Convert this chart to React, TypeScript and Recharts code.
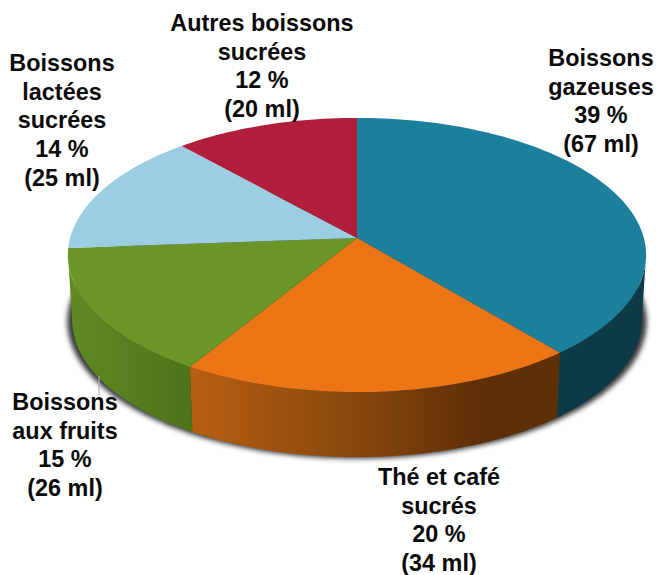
import { PieChart, Pie } from 'recharts';

const categories = ['Boissons gazeuses', 'Thé et café sucrés', 'Boissons aux fruits', 'Boissons lactées sucrées', 'Autres boissons sucrées'];
const volumes = [67, 34, 26, 25, 20];
const percents = [39, 20, 15, 14, 12];
const labelLines = [
  ['Boissons', 'gazeuses'],
  ['Thé et café', 'sucrés'],
  ['Boissons', 'aux fruits'],
  ['Boissons', 'lactées', 'sucrées'],
  ['Autres boissons', 'sucrées'],
];

const topColors = ['#1c7f9c', '#ec7615', '#6a9527', '#9bcde3', '#b01e3c'];
const sideFills = ['#0d3a46', 'url(#sideOrange)', 'url(#sideGreen)', 'none', 'none'];
const labelAnchors = [
  { x: 601, y: 66 },
  { x: 439, y: 485 },
  { x: 65, y: 410 },
  { x: 62, y: 71 },
  { x: 262, y: 31 },
];

const data = categories.map((name, i) => ({ name, value: volumes[i] }));

const LINE_HEIGHT = 28.7;
const PERSPECTIVE = 0.124; // far edge is smaller than near edge
const WIDTH_RATIO = 2.125; // rx / ry of the tilted disc
const DEPTH = 65;
const BOTTOM_SCALE = 0.985;
// visible part of the side wall, in pie angles (clockwise from 90 to -270)
const WALL_START = -7;
const WALL_END = -173;

// pie angle -> screen point on the tilted disc
const project = (cx: number, cy: number, r: number, deg: number, scale = 1, dy = 0) => {
  const a = (deg * Math.PI) / 180;
  const w = 1 + PERSPECTIVE * Math.sin(a);
  return [cx + (r * WIDTH_RATIO * scale * Math.cos(a)) / w, cy - (r * Math.sin(a)) / w + dy];
};

const arcPoints = (cx: number, cy: number, r: number, from: number, to: number, scale = 1, dy = 0) => {
  const n = Math.max(2, Math.ceil(Math.abs(to - from) / 1.5));
  const pts: number[][] = [];
  for (let i = 0; i <= n; i++) pts.push(project(cx, cy, r, from + ((to - from) * i) / n, scale, dy));
  return pts;
};

const toPath = (pts: number[][]) => 'M' + pts.map((p) => `${p[0].toFixed(2)},${p[1].toFixed(2)}`).join('L') + 'Z';

const Slice = (props: any) => {
  const { cx, cy, outerRadius: r, startAngle, endAngle, name } = props;
  const i = categories.indexOf(name);

  const wallFrom = Math.min(startAngle, WALL_START);
  const wallTo = Math.max(endAngle, WALL_END);
  const hasWall = wallFrom > wallTo && sideFills[i] !== 'none';

  return (
    <g>
      {i === 0 && (
        <path
          d={toPath(arcPoints(cx, cy, r, 0, 360, 1.002, DEPTH + 1.5))}
          fill="#3a3a3a"
          filter="url(#rimShadow)"
        />
      )}
      {hasWall && (
        <path
          d={toPath([
            ...arcPoints(cx, cy, r, wallFrom, wallTo),
            ...arcPoints(cx, cy, r, wallTo, wallFrom, BOTTOM_SCALE, DEPTH),
          ])}
          fill={sideFills[i]}
        />
      )}
      <path d={toPath([[cx, cy], ...arcPoints(cx, cy, r, startAngle, endAngle)])} fill={topColors[i]} />
    </g>
  );
};

const SliceLabel = (props: any) => {
  const i = props.index;
  const anchor = labelAnchors[i];
  const lines = [...labelLines[i], `${percents[i]} %`, `(${volumes[i]} ml)`];
  return (
    <g>
      {i === 2 && <line x1={99} y1={376} x2={99} y2={395} stroke="#b0b0b0" strokeWidth={1.2} />}
      <text
        textAnchor="middle"
        fontFamily="'Liberation Sans', Arial, sans-serif"
        fontWeight={700}
        fontSize={23.4}
        fill="#0a0a0a"
      >
        {lines.map((line, k) => (
          <tspan key={k} x={anchor.x} y={anchor.y + k * LINE_HEIGHT}>
            {line}
          </tspan>
        ))}
      </text>
    </g>
  );
};

export default function App() {
  return (
    <div style={{ position: 'absolute', left: 0, top: 0, width: 656, height: 575, background: '#fff' }}>
      <PieChart width={656} height={575} margin={{ top: 0, right: 0, bottom: 0, left: 0 }}>
        <defs>
          <linearGradient id="sideOrange" gradientUnits="userSpaceOnUse" x1={190} y1={0} x2={480} y2={0}>
            <stop offset="0" stopColor="#b85f12" />
            <stop offset="0.6" stopColor="#85450c" />
            <stop offset="1" stopColor="#5f2f06" />
          </linearGradient>
          <linearGradient id="sideGreen" gradientUnits="userSpaceOnUse" x1={70} y1={0} x2={192} y2={0}>
            <stop offset="0" stopColor="#5f8a25" />
            <stop offset="1" stopColor="#4e7219" />
          </linearGradient>
          <filter id="rimShadow" x="-5%" y="-5%" width="110%" height="110%">
            <feGaussianBlur stdDeviation="2.5" />
          </filter>
        </defs>
        <Pie
          data={data}
          dataKey="value"
          nameKey="name"
          cx={357}
          cy={238}
          outerRadius={135}
          startAngle={90}
          endAngle={-270}
          stroke="none"
          isAnimationActive={false}
          shape={Slice}
          label={SliceLabel}
          labelLine={false}
        />
      </PieChart>
    </div>
  );
}
